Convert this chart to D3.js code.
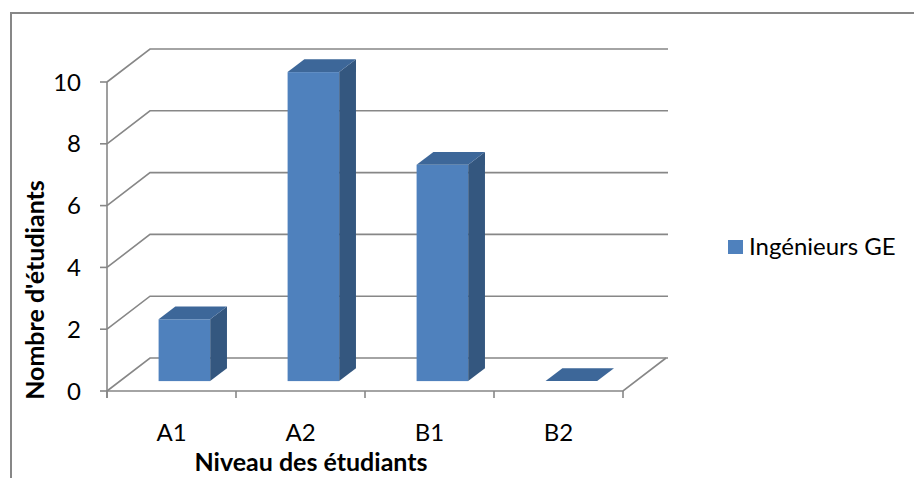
<!DOCTYPE html>
<html><head><meta charset="utf-8">
<script src="https://cdn.jsdelivr.net/npm/d3@7"></script>
<style>html,body{margin:0;padding:0;background:#fff;overflow:hidden}</style>
</head><body>
<svg id="c" width="914" height="478"></svg>
<script>
const categories = ["A1", "A2", "B1", "B2"];
const values = [2, 10, 7, 0];
const yTicks = [0, 2, 4, 6, 8, 10];
const seriesName = "Ingénieurs GE";
const xTitle = "Niveau des étudiants";
const yTitle = "Nombre d'étudiants";

(function () {
const svg = d3.select("#c");
const font = "Lato, 'Open Sans', sans-serif";
const gridColor = "#878787";

// frame
svg.append("rect").attr("x", 11).attr("y", 13).attr("width", 940).attr("height", 500)
  .attr("fill", "none").attr("stroke", gridColor).attr("stroke-width", 2);

// front plane
const x0 = 107, x1 = 623, yBottom = 391, yTop = 82;
const DX = 43, DY = -33; // depth offset
const x = d3.scaleBand().domain(categories).range([x0, x1]).padding(0);
const y = d3.scaleLinear().domain([0, 10]).range([yBottom, yTop]);

const g = svg.append("g");
yTicks.forEach(t => {
  const yy = y(t);
  g.append("path")
    .attr("d", `M${x0},${yy} L${x0 + DX},${yy + DY} L${x1 + DX + 2},${yy + DY}`)
    .attr("fill", "none").attr("stroke", gridColor).attr("stroke-width", 1.6);
});
g.append("path")
  .attr("d", `M${x0},${yBottom} L${x1},${yBottom} L${x1 + DX},${yBottom + DY}`)
  .attr("fill", "none").attr("stroke", gridColor).attr("stroke-width", 1.6);
g.append("line").attr("x1", x0).attr("x2", x0).attr("y1", yTop).attr("y2", yBottom + 7)
  .attr("stroke", gridColor).attr("stroke-width", 1.6);
yTicks.forEach(t => {
  g.append("line").attr("x1", x0 - 7).attr("x2", x0).attr("y1", y(t)).attr("y2", y(t))
    .attr("stroke", gridColor).attr("stroke-width", 1.6);
  g.append("text").attr("x", 81).attr("y", y(t)).attr("dy", "0.36em")
    .attr("text-anchor", "end").attr("font-family", font).attr("font-size", 24)
    .attr("fill", "#000").text(t);
});
const xt = categories.map(c => x(c)).concat([x1]);
xt.forEach(v => {
  g.append("line").attr("x1", v).attr("x2", v).attr("y1", yBottom).attr("y2", yBottom + 7)
    .attr("stroke", gridColor).attr("stroke-width", 1.6);
});
categories.forEach(c => {
  g.append("text").attr("x", x(c) + x.bandwidth() / 2).attr("y", 441)
    .attr("text-anchor", "middle").attr("font-family", font).attr("font-size", 24)
    .attr("fill", "#000").text(c);
});

// bars
const f1 = 0.30, f2 = 0.69;
const bw = x.bandwidth() * 0.40;
const frontCol = "#4F81BD", sideCol = "#34577F", topCol = "#3D6799";
categories.forEach((c, i) => {
  const v = values[i];
  const cx = x(c) + x.bandwidth() / 2 + DX * f1;
  const bx0 = cx - bw / 2, bx1 = cx + bw / 2;
  const yb = y(0) + DY * f1, yt = y(v) + DY * f1;
  const ddx = DX * (f2 - f1), ddy = DY * (f2 - f1);
  if (v > 0) {
    g.append("rect").attr("x", bx0).attr("y", yt).attr("width", bw).attr("height", yb - yt)
      .attr("fill", frontCol);
    g.append("path").attr("d", `M${bx1},${yt} L${bx1 + ddx},${yt + ddy} L${bx1 + ddx},${yb + ddy} L${bx1},${yb} Z`)
      .attr("fill", sideCol);
  }
  g.append("path").attr("d", `M${bx0},${yt} L${bx1},${yt} L${bx1 + ddx},${yt + ddy} L${bx0 + ddx},${yt + ddy} Z`)
    .attr("fill", topCol);
});

svg.append("text").attr("x", 311).attr("y", 471).attr("text-anchor", "middle")
  .attr("font-family", font).attr("font-size", 25).attr("font-weight", "bold")
  .attr("fill", "#000").text(xTitle);
svg.append("text").attr("transform", "translate(44,290) rotate(-90)").attr("text-anchor", "middle")
  .attr("font-family", font).attr("font-size", 25).attr("font-weight", "bold")
  .attr("fill", "#000").text(yTitle);

svg.append("rect").attr("x", 728).attr("y", 240).attr("width", 15).attr("height", 14).attr("fill", frontCol);
svg.append("text").attr("x", 749).attr("y", 255).attr("font-family", font).attr("font-size", 24)
  .attr("fill", "#000").text(seriesName);
})();
</script>
</body></html>
